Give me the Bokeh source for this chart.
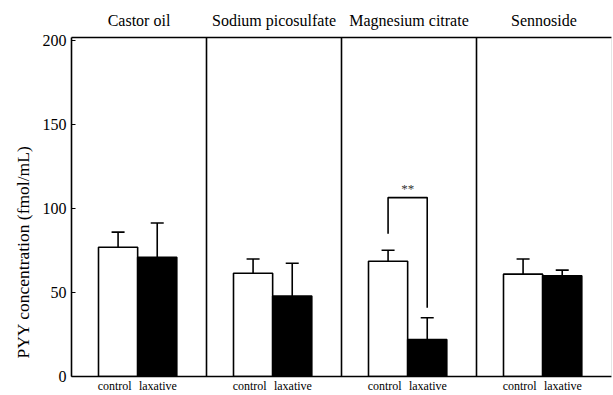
from bokeh.plotting import figure
from bokeh.models import (ColumnDataSource, Range1d, FixedTicker, LinearAxis, Span,
                          Whisker, TeeHead, Label, Title)
from bokeh.embed import file_html
from bokeh.resources import INLINE

# ---- data ----
panels = ["Castor oil", "Sodium picosulfate", "Magnesium citrate", "Sennoside"]
groups = ["control", "laxative"]
control_mean = [77, 61.5, 68.7, 61]
control_err_top = [86, 70, 75.2, 70]
laxative_mean = [71, 48, 22, 60]
laxative_err_top = [91.5, 67.5, 35, 63.4]
y_ticks = [0, 50, 100, 150, 200]
y_label = "PYY  concentration (fmol/mL)"
sig_label = "**"
bracket_levels = [85, 106.6, 41]  # left foot, top, right foot

FONT = "Liberation Serif"

# ---- layout helpers ----
n = len(panels)
ctrl_off, lax_off, bar_w = 0.345, 0.635, 0.29
ctrl_lbl_off, lax_lbl_off = 0.32, 0.64
ctrl_x = [i + ctrl_off for i in range(n)]
lax_x = [i + lax_off for i in range(n)]
ctrl_lbl_x = [i + ctrl_lbl_off for i in range(n)]
lax_lbl_x = [i + lax_lbl_off for i in range(n)]
Y_MAX = 202

src_c = ColumnDataSource(dict(x=ctrl_x, top=control_mean, up=control_err_top))
src_l = ColumnDataSource(dict(x=lax_x, top=laxative_mean, up=laxative_err_top))

p = figure(width=613, height=395, output_backend="svg", toolbar_location=None,
           x_range=Range1d(0, n), y_range=Range1d(0, Y_MAX),
           x_axis_location=None, y_axis_location=None,
           min_border_left=71, min_border_right=2, min_border_top=37,
           min_border_bottom=17)
p.outline_line_color = None
p.grid.visible = False
p.background_fill_color = "white"
p.border_fill_color = "white"

# error bars (upward only)
for src in (src_c, src_l):
    w = Whisker(source=src, base="x", lower="top", upper="up", dimension="height",
                line_color="black", line_width=1.6,
                upper_head=TeeHead(size=13, line_color="black", line_width=1.6),
                lower_head=None)
    p.add_layout(w)

p.vbar(x="x", top="top", width=bar_w, bottom=0, source=src_c,
       fill_color="white", line_color="black", line_width=1.6)
p.vbar(x="x", top="top", width=bar_w, bottom=0, source=src_l,
       fill_color="black", line_color="black", line_width=1.6)

# panel dividers
for i in range(1, n):
    p.add_layout(Span(location=i, dimension="height", line_color="black", line_width=1.6))
p.add_layout(Span(location=n, dimension="height", line_color="#cccccc", line_width=1))

# significance bracket (Magnesium citrate)
k = panels.index("Magnesium citrate")
bx = [ctrl_x[k], ctrl_x[k], lax_x[k], lax_x[k]]
by = [bracket_levels[0], bracket_levels[1], bracket_levels[1], bracket_levels[2]]
p.line(bx, by, line_color="black", line_width=1.6)
p.add_layout(Label(x=(ctrl_x[k] + lax_x[k]) / 2, y=bracket_levels[1], y_offset=2,
                   text=sig_label, text_font=FONT, text_font_size="13px",
                   text_align="center", text_baseline="bottom", text_color="#333333"))

# y axis
ya = LinearAxis(ticker=FixedTicker(ticks=y_ticks))
ya.axis_line_width = 1.6
ya.major_tick_in = 4
ya.major_tick_out = 0
ya.minor_tick_line_color = None
ya.major_label_text_font = FONT
ya.major_label_text_font_size = "16px"
ya.major_label_text_color = "black"
ya.major_label_standoff = 5
p.add_layout(ya, "left")

# y axis title, placed as a side title so it can sit lower than centre
yt = Title(text=y_label, align="left", offset=18, standoff=14,
           text_font=FONT, text_font_size="17.5px", text_font_style="normal",
           text_color="black")
p.add_layout(yt, "left")

# bottom axis: group labels
xa = LinearAxis(ticker=FixedTicker(ticks=ctrl_lbl_x + lax_lbl_x))
xa.major_label_overrides = {**{x: groups[0] for x in ctrl_lbl_x},
                            **{x: groups[1] for x in lax_lbl_x}}
xa.axis_line_width = 1.6
xa.major_tick_in = 0
xa.major_tick_out = 0
xa.minor_tick_line_color = None
xa.major_label_text_font = FONT
xa.major_label_text_font_size = "12px"
xa.major_label_text_color = "black"
xa.major_label_standoff = 2
p.add_layout(xa, "below")

# top axis: panel titles
ta = LinearAxis(ticker=FixedTicker(ticks=[i + 0.5 for i in range(n)]))
ta.major_label_overrides = {i + 0.5: panels[i] for i in range(n)}
ta.axis_line_width = 1.6
ta.major_tick_in = 0
ta.major_tick_out = 0
ta.minor_tick_line_color = None
ta.major_label_text_font = FONT
ta.major_label_text_font_size = "16px"
ta.major_label_text_color = "black"
ta.major_label_standoff = 9
p.add_layout(ta, "above")

open("out.html", "w").write(file_html(p, INLINE))
